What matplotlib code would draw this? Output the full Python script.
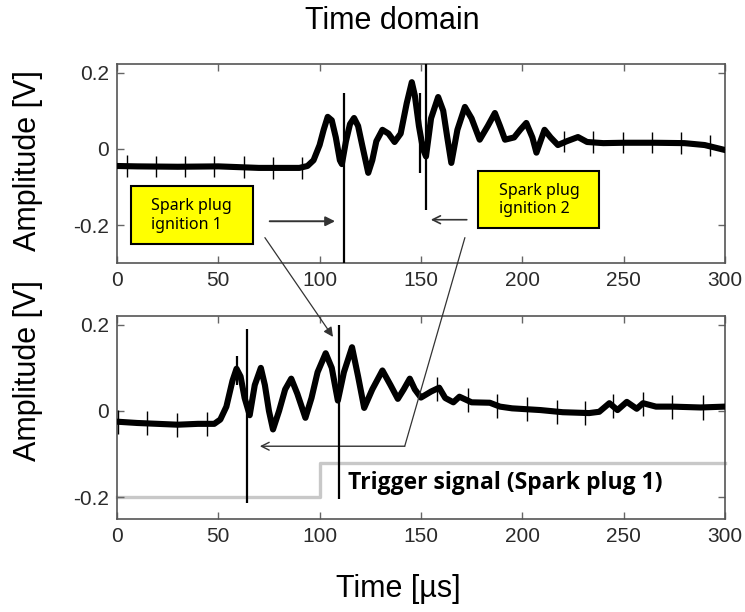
import matplotlib.pyplot as plt
from matplotlib.patches import Rectangle, ConnectionPatch

plt.rcParams['font.family'] = ['Liberation Sans', 'DejaVu Sans']
plt.rcParams['axes.unicode_minus'] = False

# upper sensor trace (µs, V)
t_top = [0, 10, 30, 50, 70, 90, 94, 97, 100, 102, 104, 106, 108, 110, 111,
         113, 115, 117, 119, 121, 124, 126, 128, 131, 134, 137, 140, 143,
         145.5, 147, 149, 151, 152.5, 155, 158.5, 161, 163, 165, 168, 171.7,
         175, 179, 183, 186.5, 189, 191.5, 196, 199, 202, 205, 207, 209, 211,
         214, 217.6, 222, 227.5, 232, 240, 250, 265, 280, 290, 300]
v_top = [-0.045, -0.046, -0.047, -0.046, -0.050, -0.050, -0.045, -0.030,
         0.010, 0.050, 0.084, 0.075, 0.030, -0.030, -0.040, 0.020, 0.065,
         0.081, 0.060, 0.010, -0.063, -0.030, 0.020, 0.050, 0.040, 0.018,
         0.040, 0.120, 0.175, 0.140, 0.060, 0.000, -0.020, 0.080, 0.136,
         0.100, 0.030, -0.037, 0.050, 0.110, 0.080, 0.024, 0.060, 0.094,
         0.060, 0.024, 0.030, 0.050, 0.068, 0.030, -0.010, 0.020, 0.050,
         0.030, 0.010, 0.020, 0.031, 0.018, 0.015, 0.016, 0.016, 0.015,
         0.010, -0.003]

# lower sensor trace (µs, V)
t_bot = [0, 10, 20, 30, 40, 48, 51, 54, 57, 59, 61, 63, 65.5, 68, 71, 73, 75,
         77, 80, 83, 86, 89, 93, 96, 99, 103, 106, 109, 112, 116, 119, 122,
         126, 131, 135, 138.6, 141.5, 144.5, 147, 150, 155, 159, 162, 166,
         169, 175, 184, 189, 195, 209, 220, 233, 238, 243, 247, 251.6, 256.5,
         259.6, 266, 274, 288, 300]
v_bot = [-0.025, -0.028, -0.030, -0.032, -0.030, -0.030, -0.020, 0.010,
         0.070, 0.098, 0.080, 0.030, -0.010, 0.060, 0.100, 0.060, 0.000,
         -0.043, 0.000, 0.050, 0.075, 0.040, -0.016, 0.030, 0.090, 0.134,
         0.100, 0.024, 0.090, 0.148, 0.080, 0.007, 0.050, 0.094, 0.060,
         0.028, 0.050, 0.075, 0.050, 0.031, 0.045, 0.054, 0.030, 0.020,
         0.033, 0.020, 0.019, 0.010, 0.006, 0.002, -0.003, -0.005, -0.002,
         0.018, 0.002, 0.021, 0.005, 0.018, 0.010, 0.010, 0.008, 0.010]

# ignition discharges: time, top, bottom of the spike
spk_top_t = [112, 149.5, 152.7]
spk_top_hi = [0.147, 0.147, 0.230]
spk_top_lo = [-0.300, -0.063, -0.160]
spk_bot_t = [59, 64, 109.7]
spk_bot_hi = [0.127, 0.190, 0.200]
spk_bot_lo = [0.060, -0.215, -0.205]

# periodic pickup glitches: time, centre level
gl_top_t = [4.9, 19.3, 33.7, 48.1, 62.5, 76.9, 91.3, 220.5, 235, 249.7,
            264.1, 278.5, 292.9]
gl_top_v = [-0.045, -0.046, -0.047, -0.046, -0.048, -0.050, -0.050, 0.020,
            0.018, 0.016, 0.016, 0.015, 0.008]
gl_bot_t = [0.5, 14.8, 29.6, 44.4, 158, 173, 187.5, 202.3, 217, 231, 245,
            259.5, 274, 289]
gl_bot_v = [-0.025, -0.029, -0.032, -0.030, 0.050, 0.025, 0.012, 0.004,
            -0.003, -0.005, 0.012, 0.016, 0.010, 0.008]
gl_half = 0.028

# trigger of spark plug 1
trig_t = [0, 100, 100, 300]
trig_v = [-0.2, -0.2, -0.12, -0.12]

xticks = [0, 50, 100, 150, 200, 250, 300]
yticks = [-0.2, 0, 0.2]
ytick_labels = ['-0.2', '0', '0.2']

fig = plt.figure(figsize=(7.45, 6.12), dpi=100)
ax1 = fig.add_axes([0.157, 0.570, 0.816, 0.325])
ax2 = fig.add_axes([0.157, 0.152, 0.816, 0.332])


def style(ax, ylim):
    ax.set_xlim(0, 300)
    ax.set_ylim(*ylim)
    ax.set_xticks(xticks)
    ax.set_yticks(yticks)
    ax.set_yticklabels(ytick_labels)
    ax.tick_params(direction='in', top=True, right=True, length=5, width=1,
                   colors='#666', labelcolor='#2a2a2a', labelsize=15, pad=6)
    for s in ax.spines.values():
        s.set_color('#555')
        s.set_linewidth(1.2)


style(ax1, (-0.3, 0.222))
style(ax2, (-0.251, 0.221))

ax2.plot(trig_t, trig_v, color='#c8c8c8', lw=2.4, zorder=1, clip_on=False)

for ax, t, v in ((ax1, t_top, v_top), (ax2, t_bot, v_bot)):
    ax.plot(t, v, color='black', lw=4.4, solid_joinstyle='round', zorder=3)

for ax, gt, gv in ((ax1, gl_top_t, gl_top_v), (ax2, gl_bot_t, gl_bot_v)):
    ax.vlines(gt, [g - gl_half for g in gv], [g + gl_half for g in gv],
              color='black', lw=1.0, zorder=3)

ax1.vlines(spk_top_t, spk_top_lo, spk_top_hi, color='black', lw=1.6, zorder=4)
ax2.vlines(spk_bot_t, spk_bot_lo, spk_bot_hi, color='black', lw=1.6, zorder=4)

ax2.text(114, -0.167, 'Trigger signal (Spark plug 1)', fontsize=16.5,
         fontweight='bold', family=['Open Sans', 'DejaVu Sans'],
         ha='left', va='center', zorder=5)

# annotation boxes
box_kw = dict(facecolor='#ffff00', edgecolor='black', lw=1.5, zorder=6)
ax1.add_patch(Rectangle((6.9, -0.249), 60.2, 0.152, **box_kw))
ax1.add_patch(Rectangle((178, -0.209), 60, 0.151, **box_kw))
ax1.text(16.8, -0.175, 'Spark plug\nignition 1', fontsize=11.5,
         family=['Noto Sans', 'DejaVu Sans'], ha='left', va='center',
         linespacing=1.2, zorder=7)
ax1.text(188.5, -0.134, 'Spark plug\nignition 2', fontsize=11.5,
         family=['Noto Sans', 'DejaVu Sans'], ha='left', va='center',
         linespacing=1.2, zorder=7)

arrow_col = '#333333'
ax1.annotate('', xy=(109, -0.19), xytext=(74, -0.19),
             arrowprops=dict(arrowstyle='-|>', color=arrow_col, lw=1.4,
                             mutation_scale=14))
ax1.annotate('', xy=(153.5, -0.186), xytext=(174, -0.186),
             arrowprops=dict(arrowstyle='->', color=arrow_col, lw=1.2,
                             mutation_scale=14))

# links from the boxes to the lower trace
c1 = ConnectionPatch(xyA=(73, -0.233), coordsA='data', axesA=ax1,
                     xyB=(106.6, 0.172), coordsB='data', axesB=ax2,
                     arrowstyle='-|>', color=arrow_col, lw=0.9,
                     mutation_scale=14, zorder=8)
fig.add_artist(c1)
c2 = ConnectionPatch(xyA=(171.7, -0.233), coordsA='data', axesA=ax1,
                     xyB=(142, -0.082), coordsB='data', axesB=ax2,
                     color=arrow_col, lw=0.9, zorder=8)
fig.add_artist(c2)
ax2.annotate('', xy=(70.5, -0.082), xytext=(142, -0.082),
             arrowprops=dict(arrowstyle='->', color=arrow_col, lw=1.0,
                             mutation_scale=14, shrinkA=0, shrinkB=0))

fig.text(0.527, 0.965, 'Time domain', fontsize=22, ha='center', va='center')
fig.text(0.534, 0.038, 'Time [µs]', fontsize=22, ha='center', va='center')
fig.text(0.0376, 0.737, 'Amplitude [V]', fontsize=22, rotation=90,
         ha='center', va='center')
fig.text(0.0376, 0.395, 'Amplitude [V]', fontsize=22, rotation=90,
         ha='center', va='center')

fig.savefig('out.png', dpi=100)
